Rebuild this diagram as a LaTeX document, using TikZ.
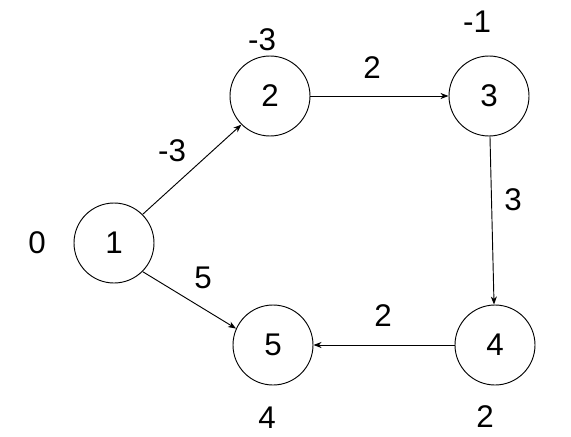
\documentclass[tikz,border=0pt]{standalone}
\usepackage{fontspec}
\setmainfont{Liberation Sans}
\usetikzlibrary{arrows.meta,positioning}
\tikzset{
  vertex/.style={draw,circle,minimum size=60pt,inner sep=0pt,line width=0.7pt,
    font=\fontsize{23.5}{27}\selectfont},
  dist/.style={inner sep=0pt,font=\fontsize{23.5}{27}\selectfont},
  weight/.style={inner sep=0pt,font=\fontsize{23.5}{27}\selectfont},
  arrow/.style={-{Stealth[length=6pt,width=4.5pt,inset=1.8pt]},line width=0.7pt}
}
\begin{document}
\begin{tikzpicture}[x=0.75pt,y=-0.75pt]
      \useasboundingbox (0,0) rectangle (571,436);
      \node[vertex] (n1) at (114,243) {1};
      \node[vertex] (n2) at (270,96) {2};
      \node[vertex] (n3) at (489,96) {3};
      \node[vertex] (n4) at (495,345) {4};
      \node[vertex] (n5) at (273,345) {5};
      % distances
      \node[dist] (d1) at (37,243) {0};
      \node[dist] (d2) at (262,40) {-3};
      \node[dist] (d3) at (477,22) {-1};
      \node[dist] (d4) at (485,417) {2};
      \node[dist] (d5) at (267,418) {4};
      % edges
      \draw[arrow] (n1.45)--(n2.225);
      \draw[arrow] (n2)--(n3);
      \draw[arrow] (n3)--(n4);
      \draw[arrow] (n4)--(n5);
      \draw[arrow] (n1.-45)--(n5.156);
      \node[weight] (w12) at (172,151) {-3};
      \node[weight] (w23) at (372,68) {2};
      \node[weight] (w34) at (513,200) {3};
      \node[weight] (w45) at (383,316) {2};
      \node[weight] (w15) at (203,278) {5};
    \end{tikzpicture}
\end{document}
